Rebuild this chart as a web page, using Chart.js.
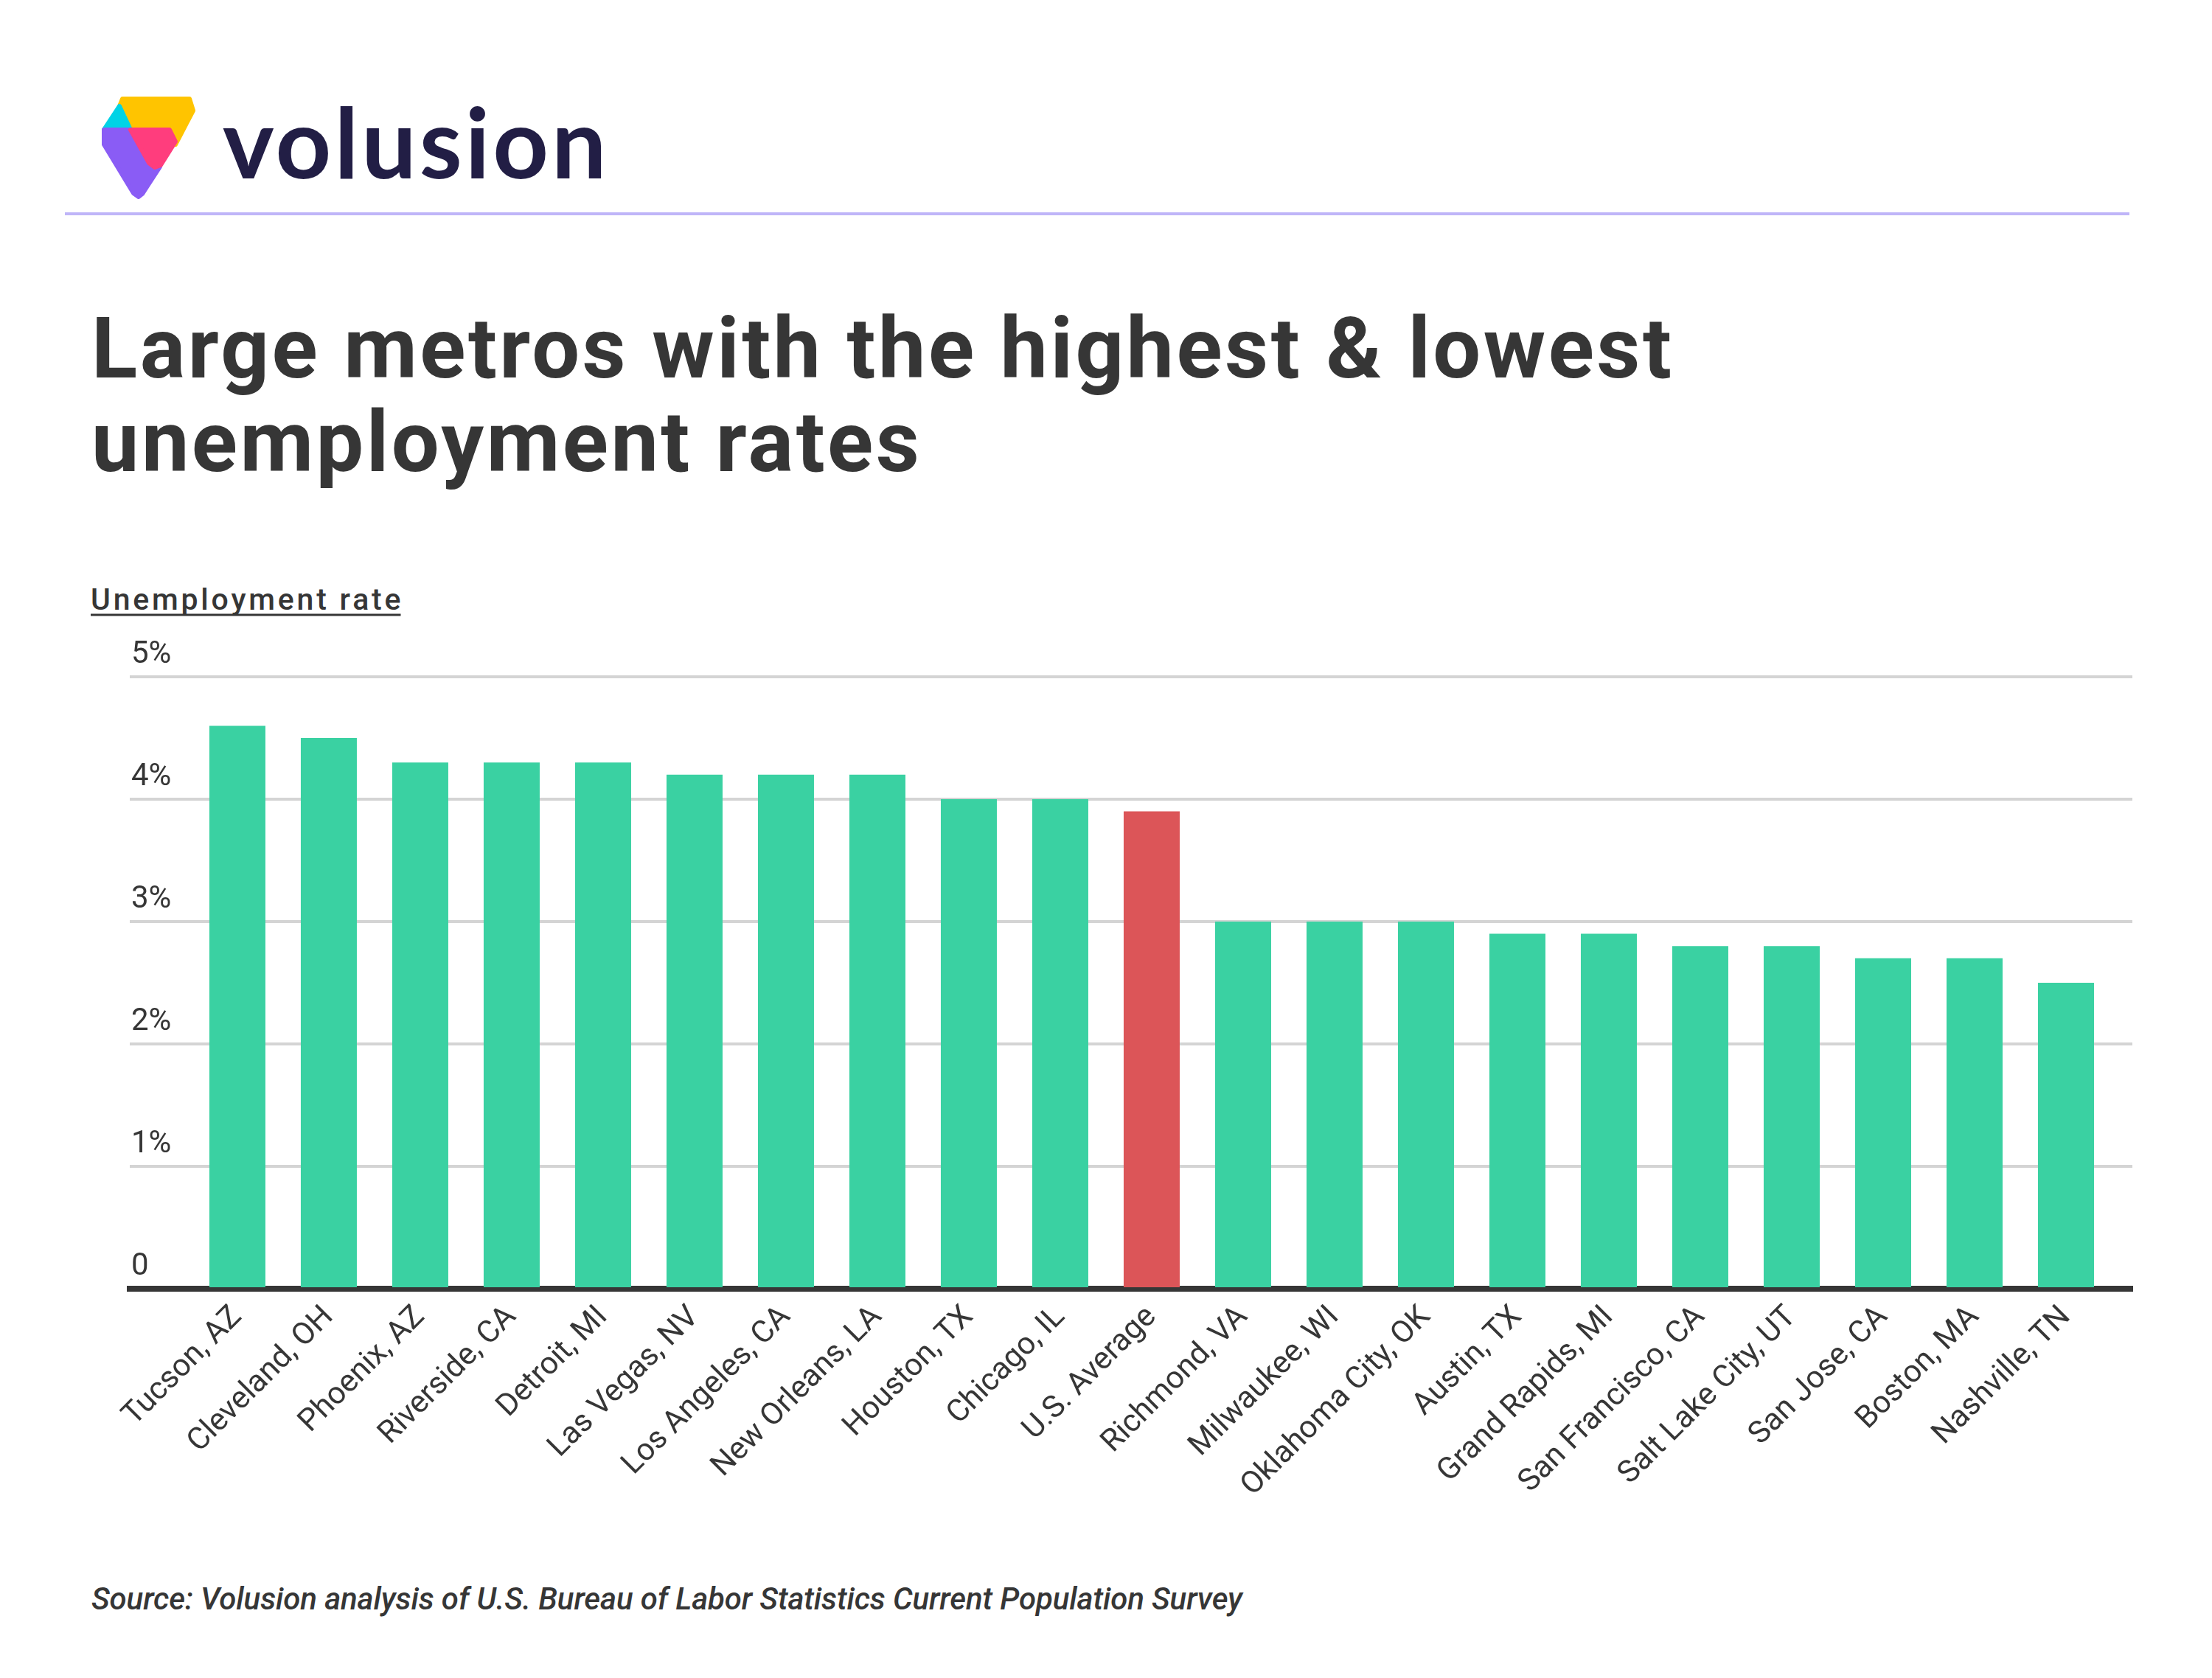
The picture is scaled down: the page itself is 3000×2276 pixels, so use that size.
<!DOCTYPE html>
<html>
<head>
<meta charset="utf-8">
<script src="https://cdn.jsdelivr.net/npm/chart.js@4/dist/chart.umd.min.js"></script>
<style>
  html, body { margin: 0; padding: 0; background: #ffffff; }
  #page { position: relative; width: 3000px; height: 2276px; background: #ffffff; overflow: hidden; }
  #deco { position: absolute; left: 0; top: 0; }
  #chartCanvas { position: absolute; left: 0; top: 860px; }
</style>
</head>
<body>
<div id="page">
  <svg id="deco" width="3000" height="2276" xmlns="http://www.w3.org/2000/svg">
    <!-- logo mark -->
    <g stroke-linejoin="round" stroke-width="6">
      <polygon points="166,134 257,134 262,150 238,196 230,176 177,176 162,144" fill="#FFC400" stroke="#FFC400"/>
      <polygon points="162,144 177,176 141,176" fill="#00D3E6" stroke="#00D3E6"/>
      <polygon points="141,176 177,176 202,221 217,226 193,263 188,267 181,262 141,196" fill="#8A5CF5" stroke="#8A5CF5"/>
      <polygon points="177,176 230,176 238,192 218,224 210,227 202,221" fill="#FF3D7D" stroke="#FF3D7D"/>
    </g>
    <text x="302" y="242" font-family="Lato" font-weight="700" font-size="132" fill="#221E45" letter-spacing="4">volusion</text>
    <line x1="88" y1="290" x2="2888" y2="290" stroke="#BFB5F8" stroke-width="4"/>
    <text x="124" y="512" font-family="Roboto" font-weight="700" font-size="115" fill="#363636" letter-spacing="3.5">Large metros with the highest &amp; lowest</text>
    <text x="124" y="639" font-family="Roboto" font-weight="700" font-size="115" fill="#363636" letter-spacing="3.5">unemployment rates</text>
    <text id="ylab" x="123" y="827" font-family="Roboto" font-weight="500" font-size="41" fill="#363636" letter-spacing="3.8">Unemployment rate</text>
    <line id="yline" x1="123" y1="834" x2="544" y2="834" stroke="#363636" stroke-width="3"/>
    <text x="124" y="2183" font-family="Roboto" font-style="italic" font-weight="500" font-size="42" fill="#363636" letter-spacing="-0.1">Source: Volusion analysis of U.S. Bureau of Labor Statistics Current Population Survey</text>
  </svg>
  <canvas id="chartCanvas" width="3000" height="1184"></canvas>
</div>
<script>
const categories = [
  'Tucson, AZ', 'Cleveland, OH', 'Phoenix, AZ', 'Riverside, CA', 'Detroit, MI',
  'Las Vegas, NV', 'Los Angeles, CA', 'New Orleans, LA', 'Houston, TX', 'Chicago, IL',
  'U.S. Average', 'Richmond, VA', 'Milwaukee, WI', 'Oklahoma City, OK', 'Austin, TX',
  'Grand Rapids, MI', 'San Francisco, CA', 'Salt Lake City, UT', 'San Jose, CA', 'Boston, MA',
  'Nashville, TN'
];
const unemploymentRates = [
  4.6, 4.5, 4.3, 4.3, 4.3,
  4.2, 4.2, 4.2, 4.0, 4.0,
  3.9, 3.0, 3.0, 3.0, 2.9,
  2.9, 2.8, 2.8, 2.7, 2.7,
  2.5
];
const highlightedCategory = 'U.S. Average';
const yTickValues = [0, 1, 2, 3, 4, 5];
const yTickLabels = ['0', '1%', '2%', '3%', '4%', '5%'];

const GREEN = '#3AD1A2';
const RED = '#DC5558';
const TEXT = '#363636';

// underline width follows the label text
(function(){
  const t = document.getElementById('ylab');
  try { const w = t.getComputedTextLength(); document.getElementById('yline').setAttribute('x2', 123 + w - 3.8); } catch(e) {}
})();

const barColors = categories.map(c => c === highlightedCategory ? RED : GREEN);

new Chart(document.getElementById('chartCanvas'), {
  type: 'bar',
  data: {
    labels: categories,
    datasets: [{
      data: unemploymentRates,
      backgroundColor: barColors,
      borderWidth: 0,
      categoryPercentage: 1.0,
      barPercentage: 0.613
    }]
  },
  options: {
    responsive: false,
    animation: false,
    devicePixelRatio: 1,
    layout: { padding: { left: 176, right: 108, top: 58, bottom: 0 } },
    plugins: { legend: { display: false }, tooltip: { enabled: false } },
    scales: {
      x: {
        type: 'category',
        offset: true,
        z: 1,
        grid: { display: false, drawTicks: false },
        border: { display: true, color: TEXT, width: 8 },
        ticks: {
          autoSkip: false,
          maxRotation: 45,
          minRotation: 45,
          padding: 14,
          color: TEXT,
          font: { family: 'Roboto', size: 42, weight: '400' }
        },
        afterBuildTicks: (s) => { s._startValue = -1.177; s._valueRange = 21.903; },
        afterFit: (s) => { s.height = 296; }
      },
      y: {
        min: 0,
        max: 5,
        afterBuildTicks: (s) => { s.ticks = yTickValues.map(v => ({ value: v })); },
        afterFit: (s) => { s.width = 0; },
        grid: {
          drawTicks: false,
          color: (ctx) => (ctx.tick && ctx.tick.value === 0) ? 'rgba(0,0,0,0)' : '#D4D4D4',
          lineWidth: 4
        },
        border: { display: false },
        ticks: {
          mirror: true,
          padding: 2,
          labelOffset: -30,
          color: TEXT,
          font: { family: 'Roboto', size: 42, weight: '400' },
          callback: (v) => yTickLabels[yTickValues.indexOf(v)]
        }
      }
    }
  }
});
</script>
</body>
</html>
